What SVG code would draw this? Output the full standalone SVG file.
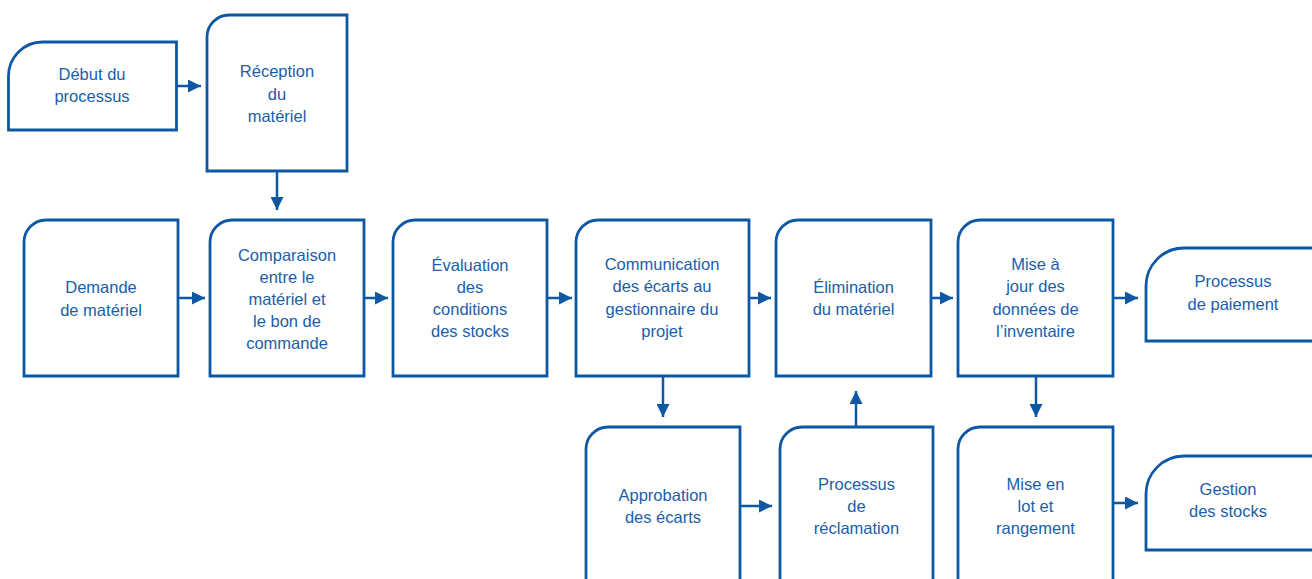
<svg xmlns="http://www.w3.org/2000/svg" width="1312" height="579" viewBox="0 0 1312 579">
  <style>
    .box { fill: #ffffff; stroke: #0d57a3; stroke-width: 2.8; stroke-linejoin: miter; }
    .lbl { font-family: "Liberation Sans", Arial, sans-serif; font-size: 16.5px; fill: #1b5ea8; text-anchor: middle; }
    .link { fill: none; stroke: #0d57a3; stroke-width: 2.5; marker-end: url(#arrow); }
  </style>
  <defs>
    <marker id="arrow" markerUnits="userSpaceOnUse" markerWidth="14" markerHeight="13" refX="13" refY="6.5" orient="auto">
      <path d="M0,0 L13,6.5 L0,13 Z" fill="#0d57a3"/>
    </marker>
  </defs>
  <rect width="1312" height="579" fill="#ffffff"/>

  <!-- connectors -->
  <g id="connectors">
    <line class="link" x1="177" y1="86" x2="201" y2="86"/>
    <line class="link" x1="277" y1="171" x2="277" y2="210"/>
    <line class="link" x1="178" y1="298" x2="205" y2="298"/>
    <line class="link" x1="364" y1="298" x2="388" y2="298"/>
    <line class="link" x1="547" y1="298" x2="572" y2="298"/>
    <line class="link" x1="749" y1="298" x2="771" y2="298"/>
    <line class="link" x1="931" y1="298" x2="953" y2="298"/>
    <line class="link" x1="1113" y1="298" x2="1138" y2="298"/>
    <line class="link" x1="663" y1="376" x2="663" y2="417"/>
    <line class="link" x1="740" y1="506" x2="772" y2="506"/>
    <line class="link" x1="856" y1="427" x2="856" y2="391"/>
    <line class="link" x1="1036" y1="376" x2="1036" y2="417"/>
    <line class="link" x1="1113" y1="503" x2="1138" y2="503"/>
  </g>

  <!-- start terminal -->
  <g id="debut">
    <path class="box" d="M8.5,130 L8.5,76 A34,34 0 0 1 42.5,42 L176.5,42 L176.5,130 Z"/>
    <text class="lbl" x="92" y="80">Début du</text>
    <text class="lbl" x="92" y="102">processus</text>
  </g>

  <g id="reception">
    <path class="box" d="M207,171 L207,37 A22,22 0 0 1 229,15 L347,15 L347,171 Z"/>
    <text class="lbl" x="277" y="77">Réception</text>
    <text class="lbl" x="277" y="99.5">du</text>
    <text class="lbl" x="277" y="122">matériel</text>
  </g>

  <g id="demande">
    <path class="box" d="M24,376 L24,242 A22,22 0 0 1 46,220 L178,220 L178,376 Z"/>
    <text class="lbl" x="101" y="293">Demande</text>
    <text class="lbl" x="101" y="315.5">de matériel</text>
  </g>

  <g id="comparaison">
    <path class="box" d="M210,376 L210,242 A22,22 0 0 1 232,220 L364,220 L364,376 Z"/>
    <text class="lbl" x="287" y="261">Comparaison</text>
    <text class="lbl" x="287" y="283">entre le</text>
    <text class="lbl" x="287" y="305">matériel et</text>
    <text class="lbl" x="287" y="327">le bon de</text>
    <text class="lbl" x="287" y="349">commande</text>
  </g>

  <g id="evaluation">
    <path class="box" d="M393,376 L393,242 A22,22 0 0 1 415,220 L547,220 L547,376 Z"/>
    <text class="lbl" x="470" y="271">Évaluation</text>
    <text class="lbl" x="470" y="293">des</text>
    <text class="lbl" x="470" y="315">conditions</text>
    <text class="lbl" x="470" y="337">des stocks</text>
  </g>

  <g id="communication">
    <path class="box" d="M576,376 L576,242 A22,22 0 0 1 598,220 L749,220 L749,376 Z"/>
    <text class="lbl" x="662" y="270">Communication</text>
    <text class="lbl" x="662" y="292">des écarts au</text>
    <text class="lbl" x="662" y="314.5">gestionnaire du</text>
    <text class="lbl" x="662" y="337">projet</text>
  </g>

  <g id="elimination">
    <path class="box" d="M776,376 L776,242 A22,22 0 0 1 798,220 L931,220 L931,376 Z"/>
    <text class="lbl" x="853.5" y="293">Élimination</text>
    <text class="lbl" x="853.5" y="315">du matériel</text>
  </g>

  <g id="mise-a-jour">
    <path class="box" d="M958,376 L958,242 A22,22 0 0 1 980,220 L1113,220 L1113,376 Z"/>
    <text class="lbl" x="1035.5" y="270">Mise à</text>
    <text class="lbl" x="1035.5" y="292">jour des</text>
    <text class="lbl" x="1035.5" y="315">données de</text>
    <text class="lbl" x="1035.5" y="337">l’inventaire</text>
  </g>

  <!-- end terminals, running past the right edge -->
  <g id="paiement">
    <path class="box" d="M1146,341 L1146,286 A38,38 0 0 1 1184,248 L1330,248 L1330,341 Z"/>
    <text class="lbl" x="1233" y="287">Processus</text>
    <text class="lbl" x="1233" y="310">de paiement</text>
  </g>

  <g id="gestion">
    <path class="box" d="M1146,550 L1146,494 A38,38 0 0 1 1184,456 L1330,456 L1330,550 Z"/>
    <text class="lbl" x="1228" y="495">Gestion</text>
    <text class="lbl" x="1228" y="517">des stocks</text>
  </g>

  <!-- lower row, running past the bottom edge -->
  <g id="approbation">
    <path class="box" d="M586,600 L586,449 A22,22 0 0 1 608,427 L740,427 L740,600"/>
    <text class="lbl" x="663" y="501">Approbation</text>
    <text class="lbl" x="663" y="523">des écarts</text>
  </g>

  <g id="reclamation">
    <path class="box" d="M780,600 L780,449 A22,22 0 0 1 802,427 L933,427 L933,600"/>
    <text class="lbl" x="856.5" y="490">Processus</text>
    <text class="lbl" x="856.5" y="512">de</text>
    <text class="lbl" x="856.5" y="534">réclamation</text>
  </g>

  <g id="mise-en-lot">
    <path class="box" d="M958,600 L958,449 A22,22 0 0 1 980,427 L1113,427 L1113,600"/>
    <text class="lbl" x="1035.5" y="490">Mise en</text>
    <text class="lbl" x="1035.5" y="512">lot et</text>
    <text class="lbl" x="1035.5" y="534">rangement</text>
  </g>
</svg>
